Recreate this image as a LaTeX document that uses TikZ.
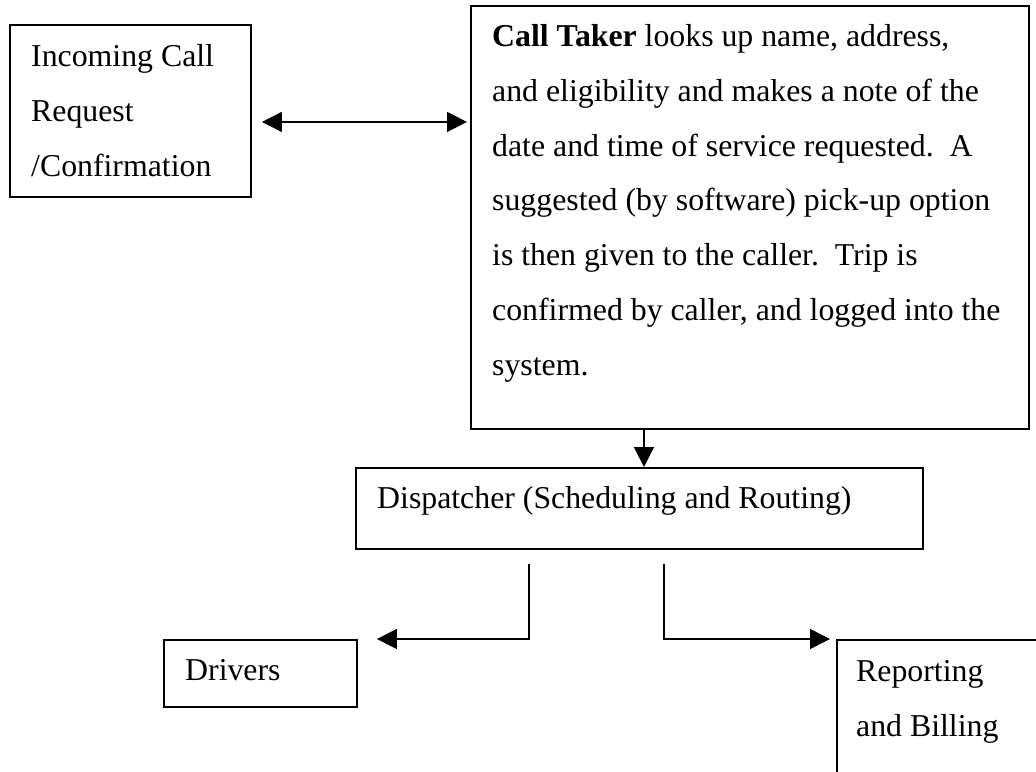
\documentclass[tikz,border=0pt]{standalone}
\usepackage{fontspec}
\setmainfont{Liberation Serif}
\usetikzlibrary{arrows.meta}
\begin{document}
\begin{tikzpicture}[x=1pt,y=-1pt,
  box/.style={draw, line width=1.9pt, inner sep=0pt, anchor=north west},
  txt/.style={anchor=base west, inner sep=0pt, align=left, font=\fontsize{31.8pt}{54.7pt}\selectfont},
  link/.style={line width=1.5pt},
  >={Triangle[length=20pt,width=20pt]}]
\clip (0,0) rectangle (1036,771);
\fill[white] (0,0) rectangle (1036,771);
% boxes
\node[box, minimum width=241pt, minimum height=172pt] (inc) at (9,24) {};
\node[box, minimum width=558pt, minimum height=423pt] (call) at (470,5) {};
\node[box, minimum width=567pt, minimum height=81pt] (disp) at (355,467) {};
\node[box, minimum width=193pt, minimum height=67pt] (drv) at (163,639) {};
\node[box, minimum width=260pt, minimum height=200pt] (rep) at (836,639) {};
% texts (anchor is the baseline of the last line)
\node[txt] (incT) at (31,176) {Incoming Call\\Request\\/Confirmation};
\node[txt] (callT) at (492,375) {\textbf{Call Taker} looks up name, address,\\and eligibility and makes a note of the\\date and time of service requested.\ \ A\\suggested (by software) pick-up option\\is then given to the caller.\ \ Trip is\\confirmed by caller, and logged into the\\system.};
\node[txt] (dispT) at (377,508) {Dispatcher (Scheduling and Routing)};
\node[txt] (drvT) at (185,680) {Drivers};
\node[txt] (repT) at (856,736) {Reporting\\and Billing};
% connectors
\coordinate (ab) at (inc.east -| call.west);
\draw[link,<->] ([xshift=10pt,yshift=-11pt]inc.east) -- ([xshift=-3pt,yshift=-11pt]ab);
\coordinate (bc) at ([xshift=4.5pt]disp.north);
\draw[link,->] (bc |- call.south) -- (bc);
\coordinate (dl) at ([xshift=-110.5pt,yshift=-14pt]disp.south);
\coordinate (dr) at ([xshift=24.5pt,yshift=-14pt]disp.south);
\draw[link,->] (dl) |- ([xshift=19pt]drv.north east);
\draw[link,->] (dr) |- ([xshift=-6pt]rep.north west);
\end{tikzpicture}
\end{document}
